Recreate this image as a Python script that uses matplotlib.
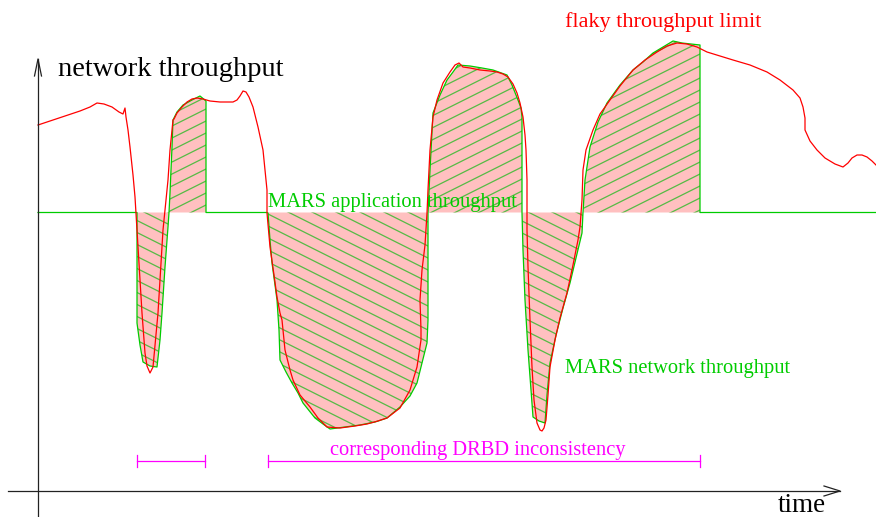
import numpy as np
import matplotlib
matplotlib.use("Agg")
import matplotlib.pyplot as plt
from matplotlib.collections import LineCollection

# ---- data (figure pixel coordinates of the hand-drawn schematic) ----
limit_x = [38, 50, 65, 80, 90, 97, 104, 112, 119, 123, 125, 126, 128, 130, 133, 135, 138, 140, 142, 145,
           147, 150, 153, 155, 158, 160, 163, 166, 168, 170, 172, 173, 174, 177, 182, 187, 192, 197, 203,
           210, 220, 228, 233, 237, 240, 243, 246, 249, 253, 258, 263, 265, 267, 267, 270, 274, 277, 280,
           282, 285, 290, 293, 300, 310, 318, 327, 340, 355, 367, 378, 387, 400, 410, 417, 421, 421, 420,
           422, 425, 427, 428, 430, 433, 437, 443, 450, 455, 459, 463, 470, 480, 490, 497, 503, 508, 513,
           517, 520, 523, 525, 526, 527, 527, 528, 530, 532, 534, 537, 540, 542, 544, 546, 548, 550, 555,
           560, 567, 573, 578, 580, 582, 583, 586, 593, 600, 610, 620, 633, 645, 657, 667, 677, 687, 697,
           707, 720, 733, 750, 767, 780, 793, 800, 803, 805, 805, 810, 817, 825, 835, 843, 848, 852, 857,
           862, 867, 872, 876]
limit_y = [125, 121, 116, 111, 107, 103, 104, 107, 112, 114, 108, 117, 130, 147, 175, 197, 247, 280, 313, 353,
           366, 373, 367, 345, 313, 280, 230, 200, 180, 150, 130, 120, 119, 113, 107, 102, 99, 98, 99,
           101, 102, 102, 102, 100, 96, 91, 92, 97, 107, 127, 150, 170, 190, 213, 247, 275, 297, 313,
           320, 350, 370, 380, 395, 407, 418, 427, 428, 426, 424, 421, 418, 408, 390, 367, 340, 330, 300,
           270, 245, 213, 190, 150, 117, 100, 83, 72, 65, 63, 67, 68, 70, 71, 72, 74, 77, 84,
           93, 103, 117, 135, 150, 180, 230, 267, 320, 367, 400, 423, 430, 431, 428, 420, 395, 367, 340,
           318, 293, 265, 240, 227, 200, 170, 150, 130, 114, 100, 86, 70, 60, 52, 46, 43, 44, 47,
           52, 56, 60, 65, 72, 80, 90, 98, 107, 118, 130, 141, 150, 158, 164, 167, 163, 158, 155,
           155, 157, 161, 165]

app_level = 212.5
net_x = [38, 137, 137, 140, 143, 150, 157, 160, 162, 165, 168, 169, 170, 172, 173, 177, 183, 192, 200, 206,
         206, 267, 268, 270, 272, 275, 277, 279, 280, 286, 292, 298, 303, 315, 323, 330, 345, 360, 375, 387,
         400, 410, 417, 422, 427, 428, 428, 428, 428, 430, 433, 440, 447, 453, 458, 470, 482, 493, 507, 512,
         518, 521, 522, 522, 522, 523, 525, 528, 531, 533, 539, 545, 547, 550, 556, 563, 570, 576, 582, 583,
         585, 590, 598, 607, 620, 633, 643, 653, 663, 673, 682, 700, 700, 876]
net_y = [212.5, 212.5, 323, 345, 362, 366, 367, 340, 313, 267, 227, 212.5, 193, 147, 120, 112, 105, 100, 96, 101,
         212.5, 212.5, 213, 240, 263, 285, 300, 330, 360, 372, 383, 393, 403, 418, 424, 429, 427, 425, 422, 418,
         407, 396, 383, 363, 343, 320, 300, 250, 212.5, 170, 113, 95, 80, 72, 65, 66, 68, 70, 75, 85,
         100, 108, 117, 160, 212.5, 250, 300, 350, 390, 417, 421, 423, 395, 363, 335, 308, 283, 258, 233, 212.5,
         180, 147, 122, 103, 85, 70, 62, 53, 47, 41, 43, 45, 212.5, 212.5]

interval_starts = [137, 268]
interval_ends = [205, 700]
interval_level = 461

# ---- drawing ----
W, H = 876, 517
fig = plt.figure(figsize=(W / 100, H / 100), dpi=100)
ax = fig.add_axes([0, 0, 1, 1])
ax.set_xlim(0, W)
ax.set_ylim(H, 0)
ax.axis("off")

serif = ["Liberation Serif", "DejaVu Serif"]
green = "#00cc00"
hatch_col = "#55bb44"
pink = "#ffc0c0"

nx = np.array(net_x, float)
ny = np.array(net_y, float)

def hatched(y_top, y_bot, sign):
    poly = ax.fill_between(nx, y_top, y_bot, facecolor=pink, edgecolor="none", zorder=1)
    path = poly.get_paths()[0]
    cs = np.arange(-700, 1300, 12.0)
    segs = [[(0, c), (W, c + sign * 0.5 * W)] for c in cs]
    lc = LineCollection(segs, colors=hatch_col, linewidths=0.9, zorder=2)
    ax.add_collection(lc)
    lc.set_clip_path(path, ax.transData)

hatched(np.minimum(ny, app_level), app_level, -1)   # above the application level: "/"
hatched(app_level, np.maximum(ny, app_level), +1)   # below the application level: "\"

ax.plot(nx, ny, color=green, lw=0.9, zorder=3)
ax.plot(limit_x, limit_y, color="#ff0000", lw=0.9, zorder=4)

# axes arrows
axc = "#222222"
ax.plot([38, 38], [517, 59], color=axc, lw=0.9, zorder=5)
ax.plot([34.5, 38, 41.5], [76, 59, 76], color=axc, lw=0.9, zorder=5)
ax.plot([8, 840], [491, 491], color=axc, lw=0.9, zorder=5)
ax.plot([824, 840, 824], [486, 491, 496], color=axc, lw=0.9, zorder=5)

# DRBD inconsistency intervals
mag = "#ff00ff"
for s, e in zip(interval_starts, interval_ends):
    ax.plot([s, e], [interval_level, interval_level], color=mag, lw=0.9, zorder=5)
    ax.plot([s, s], [interval_level - 6, interval_level + 6], color=mag, lw=0.9, zorder=5)
    ax.plot([e, e], [interval_level - 6, interval_level + 6], color=mag, lw=0.9, zorder=5)

# texts
ax.text(58, 76, "network throughput", family=serif, fontsize=20.5, color="black", va="baseline", ha="left", zorder=6)
ax.text(565, 27, "flaky throughput limit", family=serif, fontsize=16, color="#ff0000", va="baseline", ha="left", zorder=6)
ax.text(268, 207, "MARS application throughput", family=serif, fontsize=14.8, color=green, va="baseline", ha="left", zorder=6)
ax.text(565, 373, "MARS network throughput", family=serif, fontsize=14.8, color=green, va="baseline", ha="left", zorder=6)
ax.text(330, 455, "corresponding DRBD inconsistency", family=serif, fontsize=14.8, color=mag, va="baseline", ha="left", zorder=6)
ax.text(778, 512, "time", family=serif, fontsize=19.5, color="black", va="baseline", ha="left", zorder=6)

fig.savefig("out.png", dpi=100)
